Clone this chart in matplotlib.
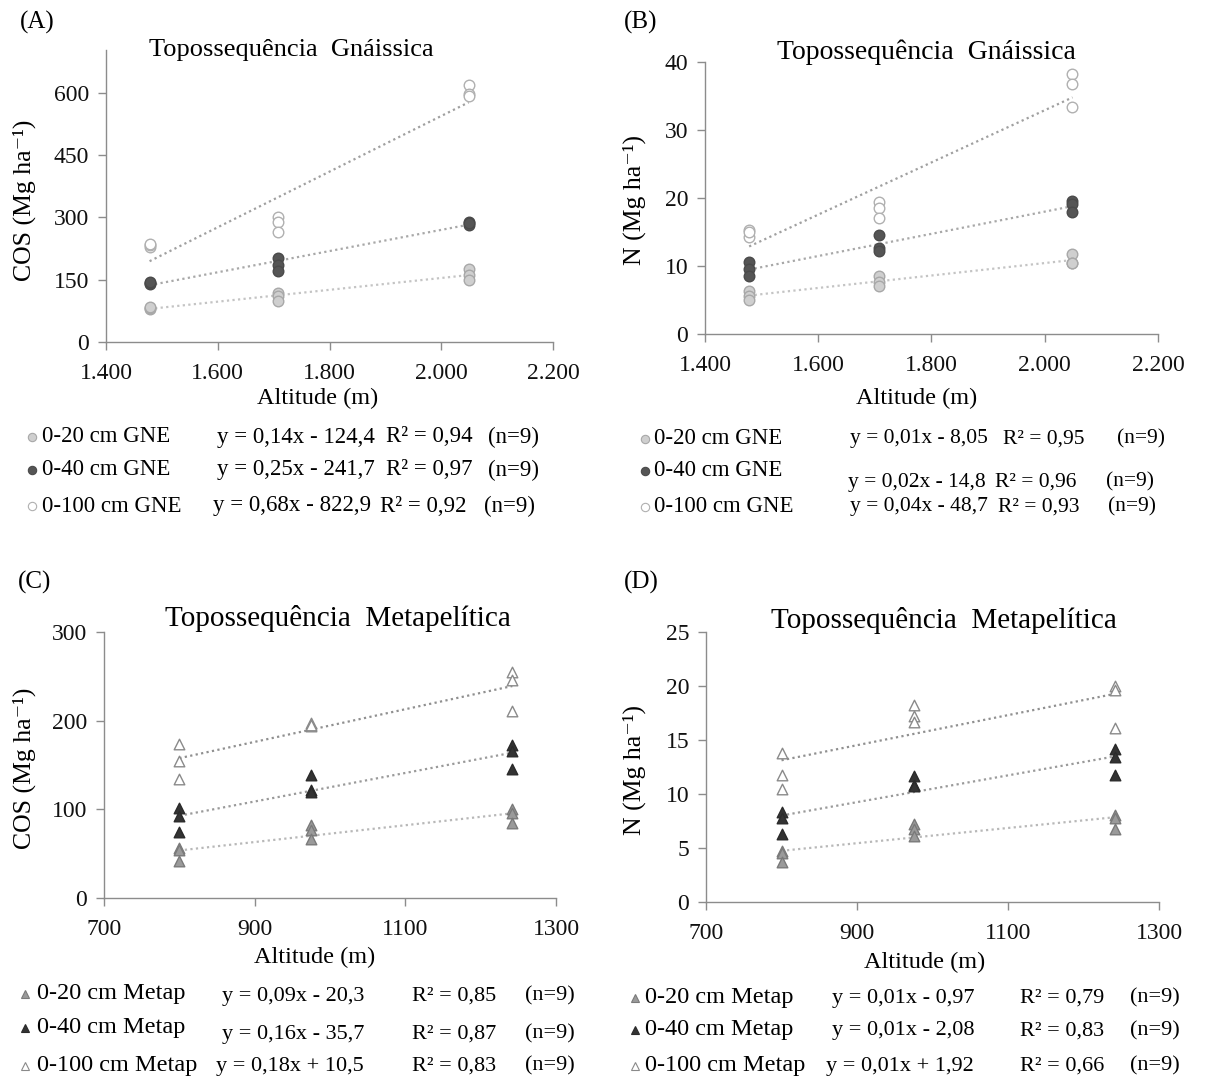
import numpy as np
import matplotlib
matplotlib.use("Agg")
import matplotlib.pyplot as plt
from matplotlib.lines import Line2D

plt.rcParams['font.family'] = ['Liberation Serif', 'DejaVu Serif']

# ---- data ----
alt_gne = [1478, 1478, 1478, 1708, 1708, 1708, 2049, 2049, 2049]
alt_met = [800, 800, 800, 975, 975, 975, 1242, 1242, 1242]

cos_gne_20 = [80, 82, 84, 118, 110, 98, 176, 162, 150]
cos_gne_40 = [140, 142, 144, 202, 186, 172, 290, 282, 286]
cos_gne_100 = [228, 233, 237, 301, 288, 265, 618, 598, 592]

n_gne_20 = [6.3, 5.6, 5.0, 8.6, 7.7, 7.1, 11.7, 10.4, 10.5]
n_gne_40 = [10.6, 9.5, 8.5, 14.6, 12.6, 12.2, 19.5, 19.1, 17.9]
n_gne_100 = [15.3, 14.3, 15.0, 19.4, 18.6, 17.1, 38.2, 36.8, 33.4]

cos_met_20 = [56.4, 54.5, 41.4, 82, 76.3, 66.6, 100.4, 95.9, 84.6]
cos_met_40 = [101.5, 92.1, 74.1, 138.4, 122.2, 119.6, 173, 166.2, 145.5]
cos_met_100 = [173.7, 154.9, 134.6, 197.4, 193.6, 195, 254.6, 245.5, 210.6]

n_met_20 = [4.7, 4.5, 3.7, 7.2, 6.8, 6.1, 8.1, 7.8, 6.8]
n_met_40 = [8.3, 7.8, 6.3, 11.7, 10.8, 10.7, 14.2, 13.4, 11.8]
n_met_100 = [13.8, 11.8, 10.5, 18.2, 17.2, 16.7, 20.0, 19.6, 16.1]

labels_gne = ['0-20 cm GNE', '0-40 cm GNE', '0-100 cm GNE']
labels_met = ['0-20 cm Metap', '0-40 cm Metap', '0-100 cm Metap']

eq_a = ['y = 0,14x - 124,4', 'y = 0,25x - 241,7', 'y = 0,68x - 822,9']
r2_a = ['R² = 0,94', 'R² = 0,97', 'R² = 0,92']
eq_b = ['y = 0,01x - 8,05', 'y = 0,02x - 14,8', 'y = 0,04x - 48,7']
r2_b = ['R² = 0,95', 'R² = 0,96', 'R² = 0,93']
eq_c = ['y = 0,09x - 20,3', 'y = 0,16x - 35,7', 'y = 0,18x + 10,5']
r2_c = ['R² = 0,85', 'R² = 0,87', 'R² = 0,83']
eq_d = ['y = 0,01x - 0,97', 'y = 0,01x - 2,08', 'y = 0,01x + 1,92']
r2_d = ['R² = 0,79', 'R² = 0,83', 'R² = 0,66']

xticks_gne = [1400, 1600, 1800, 2000, 2200]
xticklabels_gne = ['1.400', '1.600', '1.800', '2.000', '2.200']
xticks_met = [700, 900, 1100, 1300]

W, H = 1207, 1080
fig = plt.figure(figsize=(W / 100, H / 100), dpi=100)


def fx(x):
    return x / W


def fy(y):
    return 1 - y / H


def make_ax(l, r, t, b):
    ax = fig.add_axes([fx(l), fy(b), (r - l) / W, (b - t) / H])
    ax.px = (l, r, t, b)
    return ax


circle_styles = [
    dict(marker='o', facecolor='#cfcfcf', edgecolor='#a8a8a8', trend='#c4c4c4'),
    dict(marker='o', facecolor='#555555', edgecolor='#4a4a4a', trend='#a8a8a8'),
    dict(marker='o', facecolor='white', edgecolor='#b0b0b0', trend='#a0a0a0'),
]
tri_styles = [
    dict(marker='^', facecolor='#9a9a9a', edgecolor='#7a7a7a', trend='#b8b8b8'),
    dict(marker='^', facecolor='#333333', edgecolor='#2a2a2a', trend='#9a9a9a'),
    dict(marker='^', facecolor='white', edgecolor='#8a8a8a', trend='#909090'),
]


def draw_panel(ax, x, series, styles, xlim, ylim, yticks, xticks, xticklabels,
               ylabel, xlab_pos, ylab_pos):
    x = np.array(x, dtype=float)
    for y, st in zip(series, styles):
        y = np.array(y, dtype=float)
        ax.scatter(x, y, s=58, marker=st['marker'], facecolor=st['facecolor'],
                   edgecolor=st['edgecolor'], linewidth=1.0, zorder=3, clip_on=False)
        k, c = np.polyfit(x, y, 1)
        xs = np.array([x.min(), x.max()])
        ax.plot(xs, k * xs + c, linestyle=(0, (1, 1.5)), color=st['trend'], lw=1.6, zorder=2)
    ax.set_xlim(*xlim)
    ax.set_ylim(*ylim)
    ax.set_xticks(xticks)
    ax.set_xticklabels(xticklabels)
    ax.set_yticks(yticks)
    for s in ['top', 'right']:
        ax.spines[s].set_visible(False)
    for s in ['left', 'bottom']:
        ax.spines[s].set_color('#8c8c8c')
        ax.spines[s].set_linewidth(1.0)
    ax.tick_params(direction='out', length=6, width=1.0, color='#8c8c8c',
                   labelsize=17, labelcolor='#111111')
    ax.tick_params(axis='x', pad=9)
    ax.tick_params(axis='y', pad=6)
    ax.patch.set_alpha(0)
    l, r, t, b = ax.px
    ax.set_xlabel('Altitude (m)', fontsize=17.5)
    ax.xaxis.set_label_coords((xlab_pos[0] - l) / (r - l), (b - xlab_pos[1]) / (b - t))
    ax.xaxis.label.set_va('center')
    ax.set_ylabel(ylabel, fontsize=18.5)
    ax.yaxis.set_label_coords((ylab_pos[0] - l) / (r - l), (b - ylab_pos[1]) / (b - t))
    ax.yaxis.label.set_va('center')


ax_a = make_ax(106, 553, 50, 342)
draw_panel(ax_a, alt_gne, [cos_gne_20, cos_gne_40, cos_gne_100], circle_styles,
           (1400, 2200), (0, 703), [0, 150, 300, 450, 600],
           xticks_gne, xticklabels_gne, 'COS (Mg ha⁻¹)', (318, 398), (24, 200))

ax_b = make_ax(705, 1158, 62, 334)
draw_panel(ax_b, alt_gne, [n_gne_20, n_gne_40, n_gne_100], circle_styles,
           (1400, 2200), (0, 40), [0, 10, 20, 30, 40],
           xticks_gne, xticklabels_gne, 'N (Mg ha⁻¹)', (917, 398), (634, 200))

ax_c = make_ax(104, 556, 632, 898)
draw_panel(ax_c, alt_met, [cos_met_20, cos_met_40, cos_met_100], tri_styles,
           (700, 1300), (0, 300), [0, 100, 200, 300],
           xticks_met, [str(v) for v in xticks_met], 'COS (Mg ha⁻¹)', (315, 957), (24, 768))

ax_d = make_ax(706, 1159, 632, 902)
draw_panel(ax_d, alt_met, [n_met_20, n_met_40, n_met_100], tri_styles,
           (700, 1300), (0, 25), [0, 5, 10, 15, 20, 25],
           xticks_met, [str(v) for v in xticks_met], 'N (Mg ha⁻¹)', (925, 962), (634, 770))

# titles and panel letters
fig.text(fx(291), fy(50), 'Topossequência  Gnáissica', fontsize=19, ha='center', va='center')
fig.text(fx(926), fy(52), 'Topossequência  Gnáissica', fontsize=20, ha='center', va='center')
fig.text(fx(338), fy(618), 'Topossequência  Metapelítica', fontsize=21, ha='center', va='center')
fig.text(fx(944), fy(620), 'Topossequência  Metapelítica', fontsize=21, ha='center', va='center')
for lab, x, y in [('(A)', 20, 22), ('(B)', 624, 22), ('(C)', 18, 582), ('(D)', 624, 582)]:
    fig.text(fx(x), fy(y), lab, fontsize=18, ha='left', va='center')


def legend_block(labels, eqs, r2s, styles, mx, lx, rows, eq_rows, eq_x, r2_x, n_x,
                 lab_fs, eq_fs):
    for i in range(3):
        st = styles[i]
        fig.add_artist(Line2D([fx(mx)], [fy(rows[i])], transform=fig.transFigure,
                              marker=st['marker'], markersize=6, markerfacecolor=st['facecolor'],
                              markeredgecolor=st['edgecolor'], markeredgewidth=0.8, linestyle='none'))
        fig.text(fx(lx), fy(rows[i]), labels[i], fontsize=lab_fs, ha='left', va='center')
        fig.text(fx(eq_x[i]), fy(eq_rows[i]), eqs[i], fontsize=eq_fs, ha='left', va='center')
        fig.text(fx(r2_x[i]), fy(eq_rows[i]), r2s[i], fontsize=eq_fs, ha='left', va='center')
        fig.text(fx(n_x[i]), fy(eq_rows[i]), '(n=9)', fontsize=eq_fs, ha='left', va='center')


legend_block(labels_gne, eq_a, r2_a, circle_styles, 32, 42,
             [437, 470, 506], [437, 470, 506],
             [217, 217, 213], [386, 386, 380], [488, 488, 484], 16.5, 16.5)
legend_block(labels_gne, eq_b, r2_b, circle_styles, 645, 654,
             [439, 471, 507], [439, 482, 507],
             [850, 848, 850], [1003, 995, 998], [1117, 1106, 1108], 16.5, 15.5)
legend_block(labels_met, eq_c, r2_c, tri_styles, 25, 37,
             [994, 1028, 1066], [996, 1034, 1066],
             [222, 222, 216], [412, 412, 412], [525, 525, 525], 17.5, 16)
legend_block(labels_met, eq_d, r2_d, tri_styles, 635, 645,
             [998, 1030, 1066], [998, 1031, 1066],
             [832, 832, 826], [1020, 1020, 1020], [1130, 1130, 1130], 17.5, 16)

fig.savefig('out.png', dpi=100, facecolor='white')
